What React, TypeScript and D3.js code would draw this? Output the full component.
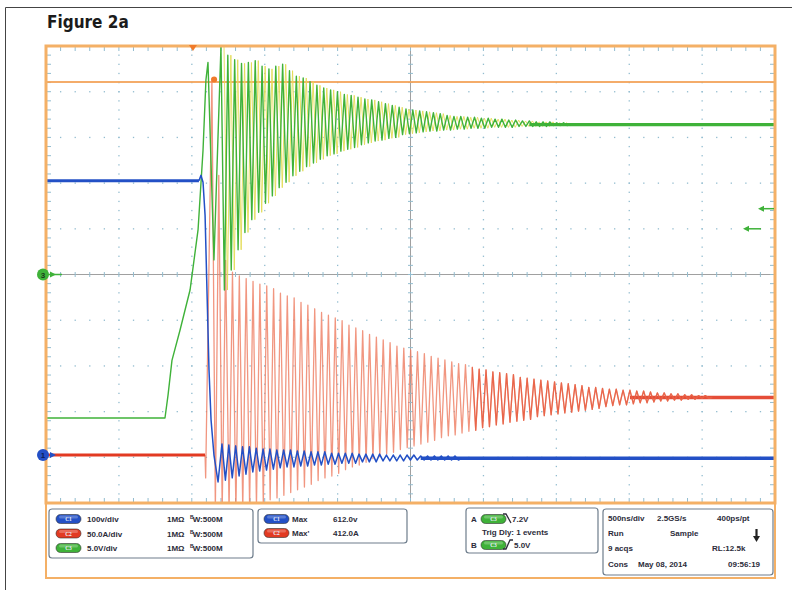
import React from "react";
import * as d3 from "d3";

// ---------- scope settings ----------
const timeDomainNs = [-2500, 2500]; // 500 ns/div, 10 div
const divDomain = [-5, 5];
const ringPeriodNs = 47;

const c1VoltsPerDiv = 100;
const c1GroundDiv = -3.95;
const c2AmpsPerDiv = 50;
const c2GroundDiv = -3.95;
const c3VoltsPerDiv = 5;
const c3GroundDiv = 0;

// ---------- C1 (blue, V) ----------
const c1EdgeT = [-2500, -1451, -1437, -1423, -1409, -1396, -1382, -1368, -1348, -1320];
const c1EdgeV = [600, 600, 612, 597, 525, 361, 186, 77, 0, -59];
const c1RingStart = -1293;
const c1RingHigh = [24, 22, 20, 18, 18, 15, 13, 13, 11, 11, 11, 9, 9, 7, 7, 7, 4, 4, 4, 4, 2, 2, 2, 2, 0, 0, 0, 0, 0, -2, -2, -2, -2, -2, -2];
const c1RingLow = [-55, -50, -46, -42, -37, -35, -33, -31, -28, -26, -26, -24, -24, -22, -22, -20, -20, -18, -18, -18, -15, -15, -15, -13, -13, -13, -13, -11, -11, -11, -11, -11, -11, -11, -11];
const c1Settle = -7;

// ---------- C2 (red, A) ----------
const c2EdgeT = [-2500, -1409, -1405];
const c2EdgeV = [0, 0, -25];
const c2RingStart = -1362;
const c2RingHigh = [412, 306, 213, 200, 196, 193, 190, 187, 185, 182, 177, 174, 172, 167, 164, 160, 156, 153, 150, 147, 142, 139, 136, 132, 129, 126, 123, 119, 117, 115, 113, 111, 108, 106, 104, 102, 100, 99, 96, 94, 93, 91, 90, 89, 88, 85, 84, 83, 82, 81, 80, 79, 78, 77, 76, 74, 74, 73, 72, 72, 71, 71, 70, 70, 69, 68, 68, 67, 67, 66, 66, 65, 65];
const c2RingLow = [-60, -60, -60, -60, -58, -56, -55, -54, -49, -47, -44, -41, -38, -35, -32, -28, -25, -23, -20, -16, -13, -11, -8, -4, -2, 1, 3, 6, 8, 10, 12, 14, 16, 19, 21, 22, 24, 26, 27, 30, 31, 33, 34, 36, 37, 38, 39, 42, 43, 44, 45, 46, 47, 48, 49, 50, 51, 53, 54, 55, 55, 56, 57, 57, 58, 59, 59, 60, 60, 61, 61, 62, 62];
const c2Settle = 63;
const c2CursorA = 408;

// ---------- C3 (green, V) ----------
const c3EdgeT = [-2500, -1684, -1663, -1636, -1581, -1512, -1457, -1423, -1403, -1389, -1348];
const c3EdgeV = [-15.7, -15.7, -13.2, -9.4, -6.1, -1.7, 4.9, 13.6, 21.3, 23.2, 1.6];
const c3RingStart = -1300;
const c3RingHigh = [24.9, 24.0, 23.5, 23.1, 23.2, 23.4, 22.8, 22.5, 22.8, 23.0, 22.3, 21.7, 21.5, 21.1, 20.7, 20.4, 20.2, 20.0, 19.7, 19.6, 19.4, 19.2, 19.1, 18.9, 18.7, 18.5, 18.3, 18.1, 18.0, 17.9, 17.8, 17.7, 17.6, 17.4, 17.3, 17.3, 17.2, 17.2, 17.1, 17.1, 17.0, 17.0, 16.9, 16.9, 16.8, 16.8, 16.7, 16.7, 16.7, 16.6, 16.6];
const c3RingLow = [-1.7, 0.5, 2.7, 4.6, 6.0, 6.8, 7.8, 8.6, 9.5, 10.1, 10.8, 11.3, 11.8, 12.2, 12.6, 13.0, 13.2, 13.5, 13.7, 13.9, 14.2, 14.4, 14.6, 14.7, 14.9, 15.0, 15.3, 15.4, 15.5, 15.6, 15.7, 15.7, 15.8, 15.8, 15.9, 15.9, 16.0, 16.0, 16.0, 16.1, 16.1, 16.1, 16.1, 16.2, 16.2, 16.2, 16.2, 16.2, 16.3, 16.3, 16.3];
const c3Settle = 16.4;
const c3EchoOffsetNs = 21;
const trigLevelsV = [7.2, 5.0];
const triggerTimeNs = -1492;

// ---------- readouts ----------
const chanRows = [
  { ch: "C1", scale: "100v/div" },
  { ch: "C2", scale: "50.0A/div" },
  { ch: "C3", scale: "5.0V/div" },
];
const measRows = [
  { ch: "C1", name: "Max", value: "612.0v" },
  { ch: "C2", name: "Max'", value: "412.0A" },
];

const PL = 46, PR = 775, PT = 46, PB = 503;
const COL: Record<string, string> = { C1: "#2350c6", C2: "#e23a22", C3: "#3fb239" };

function ringPts(start: number, hi: number[], lo: number[], from = 0) {
  const pts: [number, number][] = [];
  hi.forEach((h, k) => {
    if (k < from) return;
    pts.push([start + k * ringPeriodNs, h]);
    pts.push([start + k * ringPeriodNs + ringPeriodNs / 2, lo[k]]);
  });
  return pts;
}

const Pill = ({ x, y, ch }: { x: number; y: number; ch: string }) => (
  <g>
    <rect x={x} y={y - 4.5} width={25} height={9} rx={4.5} fill={COL[ch]} stroke="#333" strokeWidth={0.6} />
    <rect x={x + 3} y={y - 3.6} width={19} height={3} rx={1.5} fill="#fff" opacity={0.25} />
    <text x={x + 12.5} y={y + 2} fontSize={5.5} textAnchor="middle" fill="#e8eeff" fontWeight="bold">{ch}</text>
  </g>
);

export default function App() {
  const x = d3.scaleLinear().domain(timeDomainNs).range([PL, PR]);
  const dv = d3.scaleLinear().domain(divDomain).range([PB, PT]);
  const y1 = (v: number) => dv(c1GroundDiv + v / c1VoltsPerDiv);
  const y2 = (v: number) => dv(c2GroundDiv + v / c2AmpsPerDiv);
  const y3 = (v: number) => dv(c3GroundDiv + v / c3VoltsPerDiv);

  const mk = (fy: (v: number) => number) =>
    d3.line<[number, number]>().x((d) => x(d[0])).y((d) => fy(d[1]));
  const overlap = 6 * ringPeriodNs;

  // C1
  const c1Edge: [number, number][] = c1EdgeT.map((t, i) => [t, c1EdgeV[i]]);
  const c1Ring = ringPts(c1RingStart, c1RingHigh, c1RingLow);
  const c1End = c1RingStart + c1RingHigh.length * ringPeriodNs;
  const c1Path = mk(y1)([...c1Edge.slice(1), ...c1Ring, [c1End, c1Settle]]);
  const c1Pre = mk(y1)(c1Edge.slice(0, 2));
  const c1Tail = mk(y1)([[c1End - overlap, c1Settle], [timeDomainNs[1], c1Settle]]);

  // C2
  const c2Edge: [number, number][] = c2EdgeT.map((t, i) => [t, c2EdgeV[i]]);
  const c2Ring = ringPts(c2RingStart, c2RingHigh, c2RingLow);
  const c2Late = ringPts(c2RingStart, c2RingHigh, c2RingLow, 38);
  const c2End = c2RingStart + c2RingHigh.length * ringPeriodNs;
  const c2Path = mk(y2)([...c2Edge.slice(1), ...c2Ring, [c2End, c2Settle]]);
  const c2LatePath = mk(y2)([...c2Late, [c2End, c2Settle]]);
  const c2Pre = mk(y2)(c2Edge.slice(0, 2));
  const c2Tail = mk(y2)([[c2End - 2 * overlap, c2Settle], [timeDomainNs[1], c2Settle]]);

  // C3
  const c3Edge: [number, number][] = c3EdgeT.map((t, i) => [t, c3EdgeV[i]]);
  const c3Ring = ringPts(c3RingStart, c3RingHigh, c3RingLow);
  const c3End = c3RingStart + c3RingHigh.length * ringPeriodNs;
  const c3Path = mk(y3)([...c3Edge, ...c3Ring, [c3End, c3Settle]]);
  const c3Tail = mk(y3)([[c3End - overlap, c3Settle], [timeDomainNs[1], c3Settle]]);
  const echoRing = ringPts(c3RingStart + c3EchoOffsetNs, c3RingHigh, c3RingLow);
  const echoPath = mk(y3)(echoRing);

  // graticule
  const majT = d3.range(-2000, 2001, 500);
  const majD = d3.range(-4, 4.01, 1);
  const minT = d3.range(-2400, 2401, 100);
  const minD = d3.range(-4.8, 4.81, 0.2);
  const gridCol = "#92bccf";
  const orange = "#f4b066";

  const font = "'Liberation Sans', Arial, sans-serif";
  const txt = { fontFamily: font, fontSize: 8, fontWeight: "bold" as const, fill: "#2c2c3a" };

  return (
    <svg width={798} height={590} style={{ position: "absolute", left: 0, top: 0, background: "#fff" }}>
      <defs>
        <clipPath id="plotClip">
          <rect x={PL + 1} y={PT + 1} width={PR - PL - 2} height={PB - PT - 2} />
        </clipPath>
      </defs>
      <rect width={798} height={590} fill="#fff" />
      {/* outer figure border */}
      <line x1={5.5} y1={7.5} x2={792} y2={7.5} stroke="#444" strokeWidth={1} />
      <line x1={5.5} y1={7.5} x2={5.5} y2={590} stroke="#444" strokeWidth={1} />
      <text x={47} y={28} fontFamily="'Liberation Sans Narrow','DejaVu Sans Condensed',Arial,sans-serif" fontWeight="bold" fontSize={17} fill="#1b1b1b">
        Figure 2a
      </text>

      {/* graticule dots */}
      <g fill={gridCol}>
        {majT.filter((t) => t !== 0).map((t) =>
          minD.map((d) => <rect key={`v${t}_${d}`} x={x(t) - 0.6} y={dv(d) - 0.6} width={1.3} height={1.3} />)
        )}
        {majD.filter((d) => Math.abs(d) > 1e-6).map((d) =>
          minT.map((t) => <rect key={`h${d}_${t}`} x={x(t) - 0.6} y={dv(d) - 0.6} width={1.3} height={1.3} />)
        )}
      </g>
      {/* center lines */}
      <line x1={PL} x2={PR} y1={dv(0)} y2={dv(0)} stroke="#a0a0a0" strokeWidth={1} />
      <line x1={x(0)} x2={x(0)} y1={PT} y2={PB} stroke="#a0a0a0" strokeWidth={1} />
      <g stroke={gridCol} strokeWidth={1}>
        {minT.map((t) => <line key={`ct${t}`} x1={x(t)} x2={x(t)} y1={dv(0) - 2.5} y2={dv(0) + 2.5} />)}
        {minD.map((d) => <line key={`cd${d}`} x1={x(0) - 2.5} x2={x(0) + 2.5} y1={dv(d)} y2={dv(d)} />)}
        {minT.map((t) => <line key={`tt${t}`} x1={x(t)} x2={x(t)} y1={PT} y2={PT + 5} />)}
        {minT.map((t) => <line key={`bt${t}`} x1={x(t)} x2={x(t)} y1={PB - 5} y2={PB} />)}
        {minD.map((d) => <line key={`lt${d}`} x1={PL} x2={PL + 5} y1={dv(d)} y2={dv(d)} />)}
        {minD.map((d) => <line key={`rt${d}`} x1={PR - 5} x2={PR} y1={dv(d)} y2={dv(d)} />)}
      </g>

      {/* cursor level */}
      <line x1={PL} x2={PR} y1={y2(c2CursorA)} y2={y2(c2CursorA)} stroke="#f3a45a" strokeWidth={2} opacity={0.9} />

      {/* traces */}
      <g clipPath="url(#plotClip)" fill="none" strokeLinejoin="round">
        <path d={c2Tail!} stroke={COL.C2} strokeWidth={3.5} opacity={0.9} />
        <path d={c2Path!} stroke="#ee7c60" strokeWidth={1.3} opacity={0.8} />
        <path d={c2LatePath!} stroke="#e6553a" strokeWidth={1.3} opacity={0.75} />
        <path d={c2Pre!} stroke={COL.C2} strokeWidth={3} />
        <path d={echoPath!} stroke="#e3dc55" strokeWidth={1} opacity={0.9} />
        <path d={c3Tail!} stroke={COL.C3} strokeWidth={3.2} />
        <path d={c3Path!} stroke={COL.C3} strokeWidth={1.4} />
        <path d={c1Tail!} stroke={COL.C1} strokeWidth={3.5} />
        <path d={c1Path!} stroke={COL.C1} strokeWidth={1.5} />
        <path d={c1Pre!} stroke={COL.C1} strokeWidth={3} />
      </g>

      {/* frame */}
      <rect x={PL} y={PT} width={PR - PL} height={PB - PT} fill="none" stroke={orange} strokeWidth={3} />
      <rect x={PL} y={PB} width={PR - PL} height={578 - PB} fill="none" stroke={orange} strokeWidth={2} />

      {/* trigger position marker */}
      <path d={`M${x(triggerTimeNs) - 4},${PT - 1} L${x(triggerTimeNs) + 4},${PT - 1} L${x(triggerTimeNs)},${PT + 5} Z`} fill="#f07a2a" />
      <circle cx={x(c2RingStart + 15)} cy={y2(c2RingHigh[0]) + 1} r={3} fill="#f07a2a" />

      {/* ground markers */}
      <g>
        <line x1={48} x2={62} y1={y3(0)} y2={y3(0)} stroke={COL.C3} strokeWidth={1.5} />
        <path d={`M50,${y3(0) - 3} L56,${y3(0)} L50,${y3(0) + 3} Z`} fill={COL.C3} />
        <circle cx={43} cy={y3(0)} r={6} fill={COL.C3} />
        <text x={43} y={y3(0) + 3} textAnchor="middle" fontSize={8} fontWeight="bold" fontFamily={font} fill="#1a3a1a">3</text>
        <path d={`M50,${y1(0) - 3} L56,${y1(0)} L50,${y1(0) + 3} Z`} fill={COL.C1} />
        <circle cx={43} cy={y1(0)} r={6} fill={COL.C1} />
        <text x={43} y={y1(0) + 3} textAnchor="middle" fontSize={8} fontWeight="bold" fontFamily={font} fill="#0c1d55">1</text>
      </g>
      {/* trigger level arrows */}
      {trigLevelsV.map((lv, i) => {
        const yy = y3(lv);
        const x0 = i === 0 ? 758 : 743;
        const x1 = i === 0 ? 774 : 761;
        return (
          <g key={`tl${i}`}>
            <line x1={x0 + 4} x2={x1} y1={yy} y2={yy} stroke={COL.C3} strokeWidth={1.5} />
            <path d={`M${x0},${yy} L${x0 + 6},${yy - 3} L${x0 + 6},${yy + 3} Z`} fill={COL.C3} />
          </g>
        );
      })}

      {/* readout boxes */}
      <g fill="#fff" stroke="#6e7d8c" strokeWidth={1.2}>
        <rect x={49} y={509} width={204} height={49} rx={3} />
        <rect x={258} y={509} width={149} height={34} rx={3} />
        <rect x={466} y={508} width={132} height={45} rx={3} />
        <rect x={603} y={509} width={170} height={66} rx={3} />
      </g>
      {chanRows.map((r, i) => {
        const yy = 519 + i * 14.5;
        return (
          <g key={r.ch}>
            <Pill x={56} y={yy} ch={r.ch} />
            <text {...txt} x={87} y={yy + 3}>{r.scale}</text>
            <text {...txt} x={167} y={yy + 3}>1MΩ</text>
            <text {...txt} x={190} y={yy + 3}>
              <tspan fontSize={5} dy={-3}>B</tspan>
              <tspan dy={3} dx={-1}>W</tspan>
              <tspan>:500M</tspan>
            </text>
          </g>
        );
      })}
      {measRows.map((r, i) => {
        const yy = 519 + i * 14;
        return (
          <g key={r.name}>
            <Pill x={264} y={yy} ch={r.ch} />
            <text {...txt} x={292} y={yy + 3}>{r.name}</text>
            <text {...txt} x={333} y={yy + 3}>{r.value}</text>
          </g>
        );
      })}
      <g>
        <text {...txt} x={471} y={522}>A</text>
        <Pill x={481} y={519} ch="C3" />
        <path d="M503,514 L506,514 L511,523" fill="none" stroke="#2c2c3a" strokeWidth={1.3} />
        <text {...txt} x={512} y={522}>7.2V</text>
        <text {...txt} x={482} y={535}>Trig Dly: 1 events</text>
        <text {...txt} x={471} y={548}>B</text>
        <Pill x={481} y={545} ch="C3" />
        <path d="M503,549 L506,549 L510,540 L513,540" fill="none" stroke="#2c2c3a" strokeWidth={1.3} />
        <text {...txt} x={514} y={548}>5.0V</text>
      </g>
      <g>
        <text {...txt} x={608} y={521}>500ns/div</text>
        <text {...txt} x={657} y={521}>2.5GS/s</text>
        <text {...txt} x={717} y={521}>400ps/pt</text>
        <text {...txt} x={608} y={536}>Run</text>
        <text {...txt} x={670} y={536}>Sample</text>
        <line x1={756.5} x2={756.5} y1={529} y2={537} stroke="#222" strokeWidth={2.2} />
        <path d="M753,536 L760,536 L756.5,542 Z" fill="#222" />
        <text {...txt} x={608} y={551}>9 acqs</text>
        <text {...txt} x={712} y={551}>RL:12.5k</text>
        <text {...txt} x={608} y={567}>Cons</text>
        <text {...txt} x={638} y={567}>May 08, 2014</text>
        <text {...txt} x={728} y={567}>09:56:19</text>
      </g>
    </svg>
  );
}
